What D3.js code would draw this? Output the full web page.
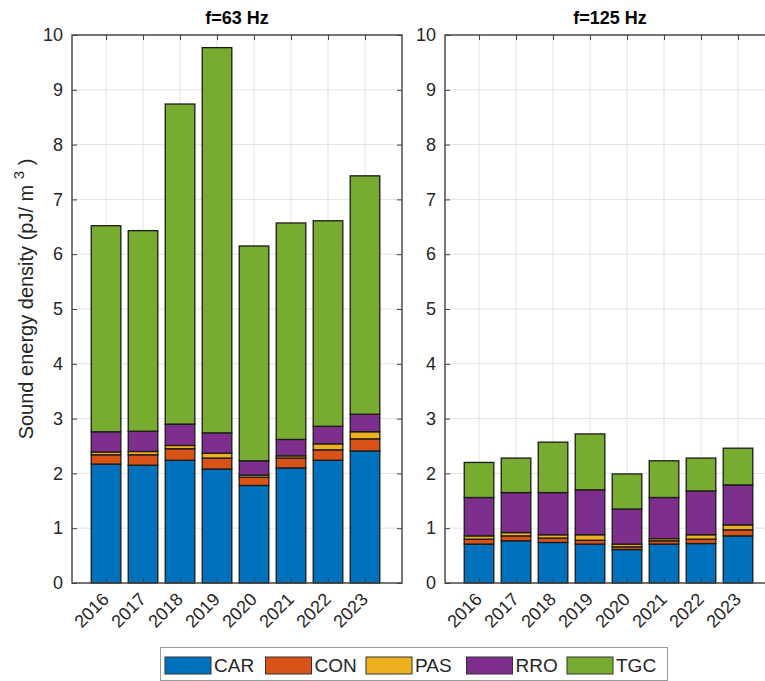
<!DOCTYPE html>
<html>
<head>
<meta charset="utf-8">
<script src="https://cdn.jsdelivr.net/npm/d3@7"></script>
<style>
  body { margin: 0; background: #fff; }
  svg { display: block; font-family: "Liberation Sans", Arial, sans-serif; }
</style>
</head>
<body>
<div id="chart"></div>
<script>
// categories
var years = ['2016', '2017', '2018', '2019', '2020', '2021', '2022', '2023'];
var sources = ['CAR', 'CON', 'PAS', 'RRO', 'TGC'];
var yTicks = [0, 1, 2, 3, 4, 5, 6, 7, 8, 9, 10];

// f = 63 Hz (pJ/m3 per source)
var car63 = [2.17, 2.15, 2.24, 2.08, 1.78, 2.10, 2.24, 2.41];
var con63 = [0.17, 0.19, 0.21, 0.20, 0.15, 0.18, 0.19, 0.22];
var pas63 = [0.05, 0.06, 0.06, 0.09, 0.04, 0.04, 0.11, 0.13];
var rro63 = [0.37, 0.37, 0.39, 0.37, 0.26, 0.30, 0.32, 0.32];
var tgc63 = [3.76, 3.66, 5.84, 7.03, 3.92, 3.95, 3.75, 4.35];

// f = 125 Hz
var car125 = [0.71, 0.77, 0.74, 0.71, 0.61, 0.71, 0.72, 0.86];
var con125 = [0.09, 0.09, 0.08, 0.07, 0.05, 0.06, 0.08, 0.11];
var pas125 = [0.06, 0.06, 0.06, 0.10, 0.05, 0.04, 0.08, 0.09];
var rro125 = [0.70, 0.73, 0.77, 0.82, 0.64, 0.75, 0.80, 0.73];
var tgc125 = [0.64, 0.63, 0.92, 1.02, 0.64, 0.67, 0.60, 0.67];

var colors = ['#0072BD', '#D95319', '#EDB120', '#7E2F8E', '#77AC30'];
var color = d3.scaleOrdinal().domain(sources).range(colors);

var width = 765, height = 681;
var yTop = 35, yBottom = 583;
var axColor = '#404040', textColor = '#262626';

var svg = d3.select('#chart').append('svg')
	.attr('width', width)
	.attr('height', height);

function makeRows(series){
	return years.map(function(yr, i){
		var row = {year: yr};
		sources.forEach(function(s, k){ row[s] = series[k][i]; });
		return row;
	});
}

function drawPanel(left, title, titleX, series){
	var w = 330;
	var x = d3.scaleLinear().domain([0.08, 9.0]).range([left, left + w]);
	var y = d3.scaleLinear().domain([0, 10]).range([yBottom, yTop]);
	var barW = x(0.8) - x(0);
	var g = svg.append('g');

	// grid
	g.selectAll('.hgrid').data(yTicks).enter().append('line')
		.attr('x1', left).attr('x2', left + w)
		.attr('y1', function(d){ return y(d); })
		.attr('y2', function(d){ return y(d); })
		.attr('stroke', '#e3e3e3');
	g.selectAll('.vgrid').data(years).enter().append('line')
		.attr('x1', function(d, i){ return x(i + 1); })
		.attr('x2', function(d, i){ return x(i + 1); })
		.attr('y1', yTop).attr('y2', yBottom)
		.attr('stroke', '#e3e3e3');

	var stack = d3.stack().keys(sources)(makeRows(series));
	g.selectAll('.layer').data(stack).enter().append('g')
		.attr('fill', function(d){ return color(d.key); })
		.selectAll('rect').data(function(d){ return d; }).enter().append('rect')
		.attr('x', function(d, i){ return x(i + 1) - barW / 2; })
		.attr('width', barW)
		.attr('y', function(d){ return y(d[1]); })
		.attr('height', function(d){ return y(d[0]) - y(d[1]); })
		.attr('stroke', '#1a1a1a')
		.attr('stroke-width', 1.3);

	// box
	g.append('rect')
		.attr('x', left).attr('y', yTop)
		.attr('width', w).attr('height', yBottom - yTop)
		.attr('fill', 'none').attr('stroke', axColor).attr('stroke-width', 1.4);

	// y axis
	var yAxis = g.append('g').attr('transform', 'translate(' + left + ',0)')
		.call(d3.axisLeft(y).tickValues(yTicks).tickSize(-5).tickPadding(9).tickFormat(d3.format('d')));
	yAxis.select('.domain').remove();
	yAxis.selectAll('line').attr('stroke', axColor);
	yAxis.selectAll('text').attr('font-size', 18).attr('fill', textColor)
		.attr('font-family', '"Liberation Sans", Arial, sans-serif');
	var yAxisR = g.append('g').attr('transform', 'translate(' + (left + w) + ',0)')
		.call(d3.axisRight(y).tickValues(yTicks).tickSize(-5).tickFormat(''));
	yAxisR.select('.domain').remove();
	yAxisR.selectAll('line').attr('stroke', axColor);

	// x axis
	var xAxis = g.append('g').attr('transform', 'translate(0,' + yBottom + ')')
		.call(d3.axisBottom(x).tickValues(d3.range(1, years.length + 1)).tickSize(-5)
			.tickFormat(function(d){ return years[d - 1]; }));
	xAxis.select('.domain').remove();
	xAxis.selectAll('line').attr('stroke', axColor);
	xAxis.selectAll('text')
		.attr('font-size', 18).attr('fill', textColor)
		.attr('font-family', '"Liberation Sans", Arial, sans-serif')
		.attr('text-anchor', 'end')
		.attr('dy', '0.35em')
		.attr('transform', 'translate(-1,13) rotate(-45)')
		.attr('x', 0).attr('y', 0);
	var xAxisT = g.append('g').attr('transform', 'translate(0,' + yTop + ')')
		.call(d3.axisTop(x).tickValues(d3.range(1, years.length + 1)).tickSize(-5).tickFormat(''));
	xAxisT.select('.domain').remove();
	xAxisT.selectAll('line').attr('stroke', axColor);

	g.append('text')
		.attr('x', titleX)
		.attr('y', 24)
		.attr('text-anchor', 'middle')
		.attr('font-size', 18).attr('font-weight', 'bold').attr('fill', '#000')
		.text(title);
}

drawPanel(72, 'f=63 Hz', 237, [car63, con63, pas63, rro63, tgc63]);
drawPanel(445, 'f=125 Hz', 610, [car125, con125, pas125, rro125, tgc125]);

// y label
var yl = svg.append('text')
	.attr('transform', 'translate(33,' + ((yTop + yBottom) / 2 - 10) + ') rotate(-90)')
	.attr('text-anchor', 'middle')
	.attr('font-size', 20).attr('fill', textColor);
yl.append('tspan').text('Sound energy density (pJ/ m ');
yl.append('tspan').attr('dy', -9).attr('font-size', 15).text('3');
yl.append('tspan').attr('dy', 9).text(' )');

// legend
var legend = svg.append('g');
legend.append('rect')
	.attr('x', 160.5).attr('y', 647.5).attr('width', 507).attr('height', 33)
	.attr('fill', '#fff').attr('stroke', '#9a9a9a');
var item = legend.selectAll('.legend').data(sources).enter().append('g')
	.attr('class', 'legend')
	.attr('transform', function(d, i){ return 'translate(' + (165 + i * 100.5) + ',657)'; });
item.append('rect')
	.attr('width', 46).attr('height', 17)
	.attr('fill', color).attr('stroke', '#333');
item.append('text')
	.attr('x', 49).attr('y', 15)
	.attr('font-size', 19).attr('fill', textColor)
	.text(function(d){ return d; });
</script>
</body>
</html>
